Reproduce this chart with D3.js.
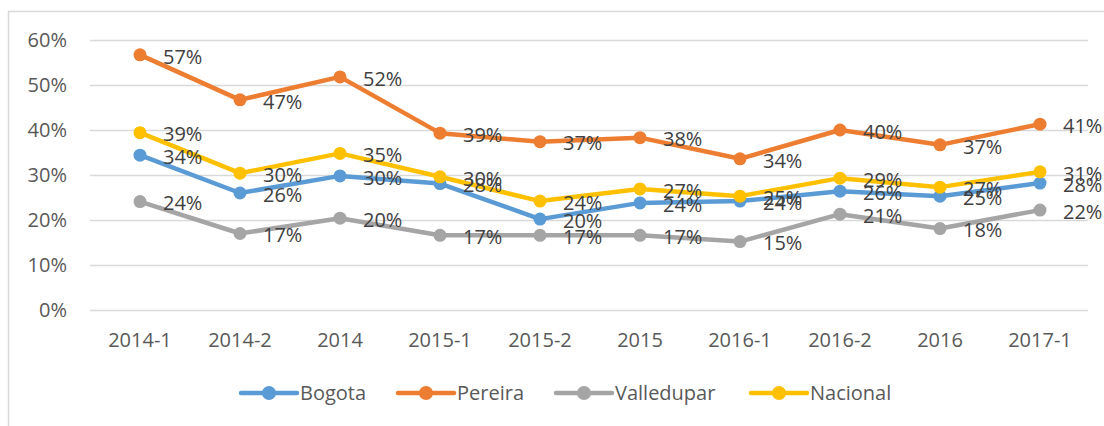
<!DOCTYPE html>
<html>
<head>
<meta charset="utf-8">
<script src="https://cdn.jsdelivr.net/npm/d3@7/dist/d3.min.js"></script>
<style>
  html, body { margin: 0; padding: 0; background: #fff; }
  svg { display: block; font-family: "Open Sans", sans-serif; }
</style>
</head>
<body>
<svg id="chart" width="1104" height="426"></svg>
<script>
const categories = ["2014-1","2014-2","2014","2015-1","2015-2","2015","2016-1","2016-2","2016","2017-1"];
const bogota     = [34.4, 26.0, 29.8, 28.1, 20.2, 23.8, 24.2, 26.4, 25.3, 28.2];
const pereira    = [56.7, 46.7, 51.8, 39.3, 37.4, 38.3, 33.6, 40.0, 36.7, 41.3];
const valledupar = [24.1, 17.0, 20.4, 16.6, 16.6, 16.6, 15.2, 21.3, 18.1, 22.2];
const nacional   = [39.4, 30.4, 34.8, 29.6, 24.2, 26.9, 25.3, 29.3, 27.3, 30.7];
const yTicks = [0, 10, 20, 30, 40, 50, 60];

const series = [
  { name: "Bogota", values: bogota, color: "#5B9BD5" },
  { name: "Pereira", values: pereira, color: "#ED7D31" },
  { name: "Valledupar", values: valledupar, color: "#A5A5A5" },
  { name: "Nacional", values: nacional, color: "#FFC000" }
];

const svg = d3.select("#chart");
const fontSize = 20;

// chart border
svg.append("rect")
  .attr("x", 8.5).attr("y", 11.5).attr("width", 1120).attr("height", 440)
  .attr("fill", "none").attr("stroke", "#D9D9D9").attr("stroke-width", 1.5);

const x = d3.scaleBand().domain(categories).range([90, 1090]);
const y = d3.scaleLinear().domain([0, 60]).range([310, 40]);

// y axis + gridlines
const yAxis = svg.append("g")
  .attr("transform", "translate(90,0)")
  .call(d3.axisLeft(y).tickValues(yTicks).tickFormat(d => d + "%").tickSize(-998).tickPadding(23));
yAxis.select(".domain").remove();
yAxis.selectAll(".tick line").attr("stroke", "#D9D9D9").attr("stroke-width", 1.6);
yAxis.selectAll(".tick text").attr("fill", "#595959").style("font-size", fontSize + "px")
  .style("font-family", "'Open Sans', sans-serif");

// x axis
const xAxis = svg.append("g")
  .attr("transform", "translate(0,310)")
  .call(d3.axisBottom(x).tickSize(0).tickPadding(23));
xAxis.select(".domain").remove();
xAxis.selectAll(".tick text").attr("fill", "#595959").style("font-size", fontSize + "px")
  .style("font-family", "'Open Sans', sans-serif");

const cx = d => x(d) + x.bandwidth() / 2;

const line = d3.line()
  .x((d, i) => cx(categories[i]))
  .y(d => y(d));

// lines + markers
series.forEach(s => {
  const g = svg.append("g");
  g.append("path")
    .datum(s.values)
    .attr("d", line)
    .attr("fill", "none")
    .attr("stroke", s.color)
    .attr("stroke-width", 4.5)
    .attr("stroke-linejoin", "round")
    .attr("stroke-linecap", "round");
  g.selectAll("circle")
    .data(s.values)
    .join("circle")
    .attr("cx", (d, i) => cx(categories[i]))
    .attr("cy", d => y(d))
    .attr("r", 6.5)
    .attr("fill", s.color);
});

// data labels
series.forEach(s => {
  svg.append("g").selectAll("text")
    .data(s.values)
    .join("text")
    .attr("x", (d, i) => cx(categories[i]) + 23)
    .attr("y", d => y(d) + 1.5)
    .attr("dy", "0.36em")
    .attr("fill", "#404040")
    .style("font-size", fontSize + "px")
    .text(d => Math.round(d) + "%");
});

// legend
const legendStarts = [241, 398, 556, 751];
const legend = svg.append("g").attr("transform", "translate(0,393)");
series.forEach((s, i) => {
  const lx = legendStarts[i];
  const g = legend.append("g").attr("transform", `translate(${lx},0)`);
  g.append("line").attr("x1", 0).attr("x2", 56).attr("y1", 0).attr("y2", 0)
    .attr("stroke", s.color).attr("stroke-width", 4.5).attr("stroke-linecap", "round");
  g.append("circle").attr("cx", 28).attr("cy", 0).attr("r", 7).attr("fill", s.color);
  g.append("text").attr("x", 59).attr("y", 0).attr("dy", "0.34em")
    .attr("fill", "#595959").style("font-size", fontSize + "px")
    .text(s.name);
});
</script>
</body>
</html>
